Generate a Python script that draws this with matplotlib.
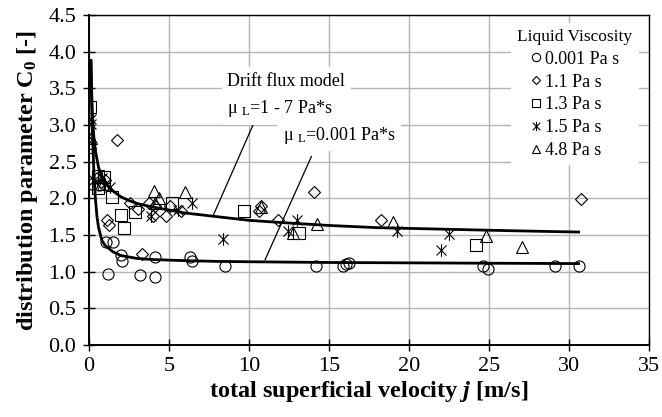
import matplotlib
matplotlib.use("Agg")
import matplotlib.pyplot as plt
from matplotlib.path import Path

plt.rcParams["font.family"] = ["Liberation Serif", "DejaVu Serif"]
plt.rcParams["mathtext.fontset"] = "custom"
plt.rcParams["mathtext.rm"] = "Liberation Serif"
plt.rcParams["mathtext.it"] = "Liberation Serif:italic:bold"
plt.rcParams["mathtext.bf"] = "Liberation Serif:bold"

# measured points, j [m/s] vs C0 [-]
j_0001 = [0.17, 0.6, 1.04, 1.17, 1.52, 2.0, 2.04, 3.19, 4.1, 4.12, 6.31, 6.42,
          8.5, 14.19, 15.86, 16.06, 16.27, 24.64, 24.96, 29.1, 30.6]
c0_0001 = [2.19, 2.18, 1.40, 0.97, 1.40, 1.23, 1.15, 0.95, 1.20, 0.93, 1.20, 1.14,
           1.08, 1.08, 1.08, 1.10, 1.12, 1.08, 1.03, 1.08, 1.08]

j_11 = [0.5, 0.75, 1.0, 1.1, 1.25, 1.73, 2.56, 3.04, 3.33, 3.77, 3.98, 4.12,
        4.81, 5.06, 5.73, 10.64, 10.75, 11.83, 14.08, 18.25, 30.75]
c0_11 = [2.28, 2.22, 2.25, 1.71, 1.64, 2.80, 1.94, 1.86, 1.24, 1.94, 1.76, 1.90,
         1.76, 1.90, 1.83, 1.83, 1.89, 1.71, 2.09, 1.71, 1.99]

j_13 = [0.06, 0.54, 0.58, 0.96, 1.42, 2.02, 2.17, 2.85, 5.18, 9.67, 13.1, 24.19]
c0_13 = [3.25, 2.14, 2.30, 2.29, 2.02, 1.77, 1.60, 1.82, 1.94, 1.83, 1.53, 1.36]

j_15 = [0.1, 0.12, 0.3, 0.8, 1.0, 1.3, 3.9, 5.58, 6.42, 8.38, 12.46, 13.02,
        19.23, 21.98, 22.5]
c0_15 = [3.02, 3.08, 2.25, 2.28, 2.2, 2.16, 1.76, 1.84, 1.93, 1.45, 1.56, 1.71,
         1.56, 1.30, 1.51]

j_48 = [0.06, 0.08, 0.1, 0.9, 4.07, 4.12, 4.35, 6.0, 10.75, 12.77, 14.23, 19.02,
        24.79, 27.04]
c0_48 = [2.70, 2.76, 2.82, 2.2, 2.10, 1.93, 2.01, 2.08, 1.88, 1.53, 1.65, 1.68,
         1.49, 1.34]

# drift flux model curves
j_model_hi = [0.12, 0.2, 0.3, 0.4, 0.6, 0.8, 1.0, 1.5, 2.0, 2.5, 3, 4, 5, 6, 8,
              10, 12, 15, 18, 22, 26, 30.6]
c0_model_hi = [3.88, 3.2, 2.85, 2.65, 2.42, 2.30, 2.22, 2.10, 2.02, 1.97, 1.93,
               1.88, 1.84, 1.80, 1.75, 1.70, 1.67, 1.63, 1.60, 1.58, 1.56, 1.54]
j_model_lo = [0.12, 0.2, 0.3, 0.4, 0.5, 0.6, 0.8, 1.0, 1.5, 2, 3, 4, 6, 8, 10,
              15, 20, 25, 30.6]
c0_model_lo = [3.88, 3.0, 2.4, 2.0, 1.75, 1.6, 1.43, 1.36, 1.27, 1.22, 1.18,
               1.165, 1.15, 1.14, 1.135, 1.125, 1.12, 1.115, 1.11]

star = Path([(-1, -1), (1, 1), (-1, 1), (1, -1), (0, -1.25), (0, 1.25)],
            [Path.MOVETO, Path.LINETO, Path.MOVETO, Path.LINETO, Path.MOVETO, Path.LINETO])

fig = plt.figure(figsize=(6.62, 4.17), dpi=100)
ax = fig.add_axes([0.1344, 0.1727, 0.846, 0.7913])

ax.plot(j_model_hi, c0_model_hi, color="black", lw=2.0, zorder=3)
ax.plot(j_model_lo, c0_model_lo, color="black", lw=2.0, zorder=3)

mk = dict(ls="none", mfc="none", mec="black", mew=0.8, zorder=4)
ax.plot(j_0001, c0_0001, marker="o", ms=8, label="0.001 Pa s", **mk)
ax.plot(j_11, c0_11, marker="D", ms=6, label="1.1 Pa s", **mk)
ax.plot(j_13, c0_13, marker="s", ms=8, label="1.3 Pa s", **mk)
ax.plot(j_15, c0_15, marker=star, ms=9, label="1.5 Pa s", **mk)
ax.plot(j_48, c0_48, marker="^", ms=8, label="4.8 Pa s", **mk)

# leader lines for the annotations
ax.plot([10.25, 7.75], [3.00, 1.76], color="black", lw=0.9, zorder=2)
ax.plot([13.9, 11.0], [2.57, 1.16], color="black", lw=0.9, zorder=2)

box = dict(facecolor="white", edgecolor="none", pad=4)
ax.text(8.65, 3.60, "Drift flux model", fontsize=13, va="center", ha="left",
        bbox=box, zorder=5)
ax.text(8.65, 3.22, "μ $_{\\mathrm{L}}$=1 - 7 Pa*s", fontsize=13, va="center",
        ha="left", bbox=box, zorder=5)
ax.text(12.1, 2.86, "μ $_{\\mathrm{L}}$=0.001 Pa*s", fontsize=13, va="center",
        ha="left", bbox=box, zorder=5)

ax.set_xlim(0, 35)
ax.set_ylim(0, 4.5)
ax.set_xticks(range(0, 36, 5))
ax.set_yticks([i * 0.5 for i in range(10)])
ax.set_yticklabels([f"{i * 0.5:.1f}" for i in range(10)])
ax.grid(True, color="#b4b4b4", lw=1.0, zorder=0)
ax.set_axisbelow(True)
ax.tick_params(direction="inout", length=8, width=1.0, labelsize=16, pad=5)
for s in ax.spines.values():
    s.set_color("black")
    s.set_linewidth(1.0)
    s.set_zorder(7)
ax.spines["left"].set_linewidth(1.4)
ax.spines["bottom"].set_linewidth(1.4)

ax.set_xlabel("total superficial velocity $j$ [m/s]", fontsize=17.5,
              fontweight="bold", labelpad=2)
ax.set_ylabel("distribution parameter C$_\\mathbf{0}$ [-]", fontsize=17.5,
              fontweight="bold", labelpad=6)

leg = ax.legend(loc="upper right", bbox_to_anchor=(0.998, 1.004),
                title="Liquid Viscosity", fontsize=13, title_fontsize=12.5,
                frameon=True, fancybox=False, handlelength=0.5,
                handletextpad=0.25, labelspacing=0.32, borderpad=0.35,
                markerscale=0.75, alignment="center")
leg.get_frame().set_edgecolor("none")
leg.get_frame().set_facecolor("white")
leg.get_frame().set_alpha(1)
leg.set_zorder(6)

fig.savefig("out.png", dpi=100)
